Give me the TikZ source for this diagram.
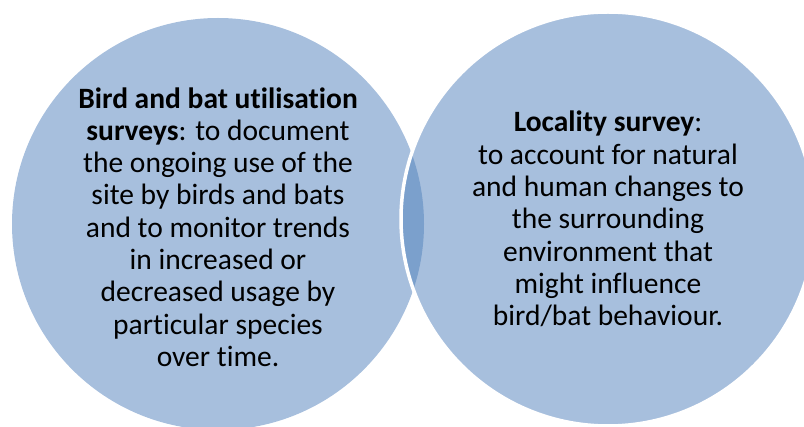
\documentclass[tikz,border=0pt]{standalone}
\usepackage{fontspec}
\setmainfont[Ligatures=NoCommon]{Carlito}
\definecolor{circblue}{HTML}{A7BFDD}
\definecolor{lensblue}{HTML}{7BA0CC}
\begin{document}
\begin{tikzpicture}[x=1pt,y=-1pt,
  bubble/.style={circle,fill=circblue,minimum size=#1,inner sep=0pt},
  bubbletext/.style={align=center,text=black,font=\fontsize{29.5}{32.3}\selectfont,inner sep=0pt}]
\useasboundingbox (0,0) rectangle (804,427);
\clip (0,0) rectangle (804,427);
\node[bubble=412pt] (L) at (218,224) {};
\node[bubble=414pt] (R) at (608,219) {};
\begin{scope}
  \clip (218,224) circle (206);
  \fill[lensblue] (608,219) circle (207);
\end{scope}
\draw[white,line width=3.5pt] (608,219) circle (207);
\node[bubbletext] (Lt) at (218,227) {\textbf{Bird and bat utilisation}\\\textbf{surveys}: to document\\the ongoing use of the\\site by birds and bats\\and to monitor trends\\in increased or\\decreased usage by\\particular species\\over time.};
\node[bubbletext] (Rt) at (608,219) {\textbf{Locality survey}:\\to account for natural\\and human changes to\\the surrounding\\environment that\\might influence\\bird/bat behaviour.};
\end{tikzpicture}
\end{document}
